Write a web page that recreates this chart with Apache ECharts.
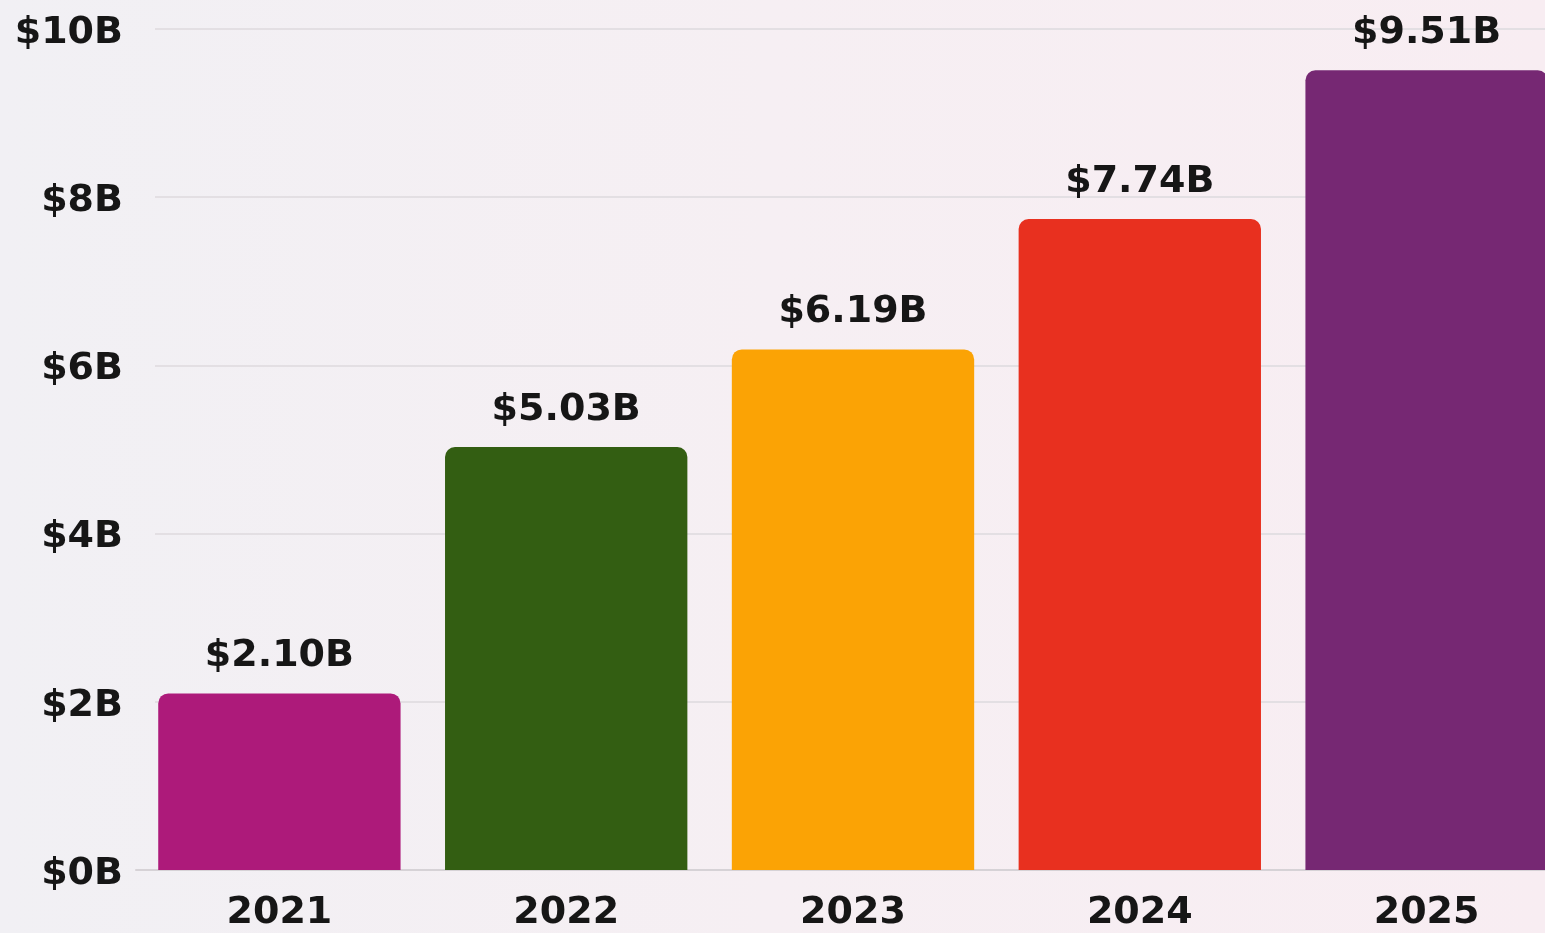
<!DOCTYPE html>
<html><head><meta charset="utf-8">
<script src="https://cdn.jsdelivr.net/npm/echarts@6/dist/echarts.min.js"></script>
<style>html,body{margin:0;padding:0;}#c{width:1545px;height:933px;background:linear-gradient(90deg,#f1f0f4 0%,#f6eff3 50%,#f8edf2 100%);}</style>
</head><body><div id="c"></div>
<script>
const years = ['2021','2022','2023','2024','2025'];
const revenue = [2.10, 5.03, 6.19, 7.74, 9.51];
const barColors = ['#ad1a7a','#335e12','#fba305','#e8301f','#762873'];
const yTicks = [0, 2, 4, 6, 8, 10];

const chart = echarts.init(document.getElementById('c'), null, {renderer:'canvas'});
const font = '"DejaVu Sans", sans-serif';
chart.setOption({
  backgroundColor: 'transparent',
  animation: false,
  grid: [
    {left: 155, width: 1390, top: 29, bottom: 63, containLabel: false, outerBoundsMode: 'none'},
    {left: 136, width: 1434, top: 29, bottom: 63, containLabel: false, outerBoundsMode: 'none'}
  ],
  xAxis: [
    {gridIndex: 0, type: 'category', data: years, show: false},
    {
      gridIndex: 1, type: 'category', data: years,
      axisLine: {show: true, lineStyle: {color: '#d6d2d6', width: 2}},
      axisTick: {show: false},
      axisLabel: {color: '#161616', fontFamily: font, fontWeight: 'bold', fontSize: 38, margin: 24}
    }
  ],
  yAxis: [
    {
      gridIndex: 0, type: 'value', min: 0, max: 10, interval: 2,
      axisLine: {show: false}, axisTick: {show: false},
      splitLine: {lineStyle: {color: '#e3dfe3', width: 2}},
      axisLabel: {color: '#161616', fontFamily: font, fontWeight: 'bold', fontSize: 38, margin: 32,
        formatter: v => yTicks.includes(v) ? '{a|$' + v + 'B}' : '',
        rich: {a: {color: '#161616', fontFamily: font, fontWeight: 'bold', fontSize: 38, padding: [8, 0, 0, 0]}}}
    },
    {gridIndex: 1, type: 'value', min: 0, max: 10, interval: 2, show: false, splitLine: {show: false}}
  ],
  series: [{
    type: 'bar', xAxisIndex: 1, yAxisIndex: 1,
    data: revenue.map((v, i) => ({value: v, itemStyle: {color: barColors[i]}})),
    barCategoryGap: '15.5%',
    itemStyle: {borderRadius: [10, 10, 0, 0]},
    label: {show: true, position: 'top', distance: 18, color: '#161616',
      fontFamily: font, fontWeight: 'bold', fontSize: 38,
      formatter: p => '$' + p.value.toFixed(2) + 'B'}
  }]
});
</script></body></html>
